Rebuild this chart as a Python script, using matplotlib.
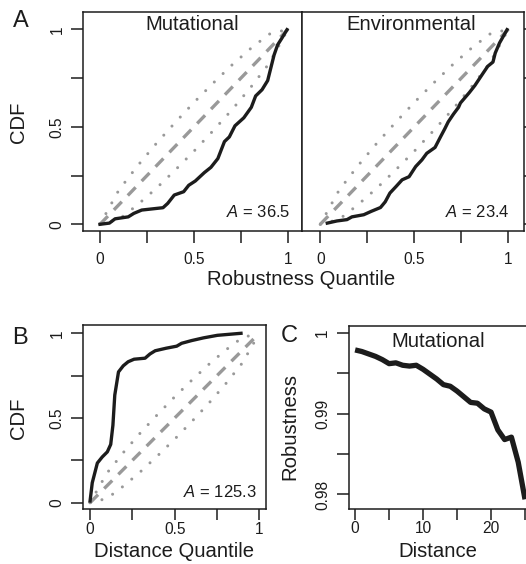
import matplotlib
matplotlib.use("Agg")
import matplotlib.pyplot as plt
import numpy as np

plt.rcParams['font.family'] = ['Liberation Sans', 'DejaVu Sans']
plt.rcParams['mathtext.fontset'] = 'custom'
plt.rcParams['mathtext.it'] = 'Liberation Sans:italic'
plt.rcParams['mathtext.rm'] = 'Liberation Sans'

# ---------------- data ----------------
# Panel A, Mutational CDF (robustness quantile vs CDF)
mut_q = [0.0, 0.05, 0.08, 0.15, 0.18, 0.222, 0.335, 0.36, 0.395, 0.445, 0.472, 0.507, 0.555, 0.59,
         0.627, 0.662, 0.688, 0.718, 0.765, 0.805, 0.828, 0.862, 0.892, 0.926, 0.945, 0.966, 0.995]
mut_cdf = [0.0, 0.006, 0.028, 0.038, 0.056, 0.073, 0.085, 0.107, 0.15, 0.167, 0.2, 0.222, 0.265, 0.292,
           0.337, 0.424, 0.448, 0.505, 0.546, 0.6, 0.658, 0.69, 0.737, 0.868, 0.92, 0.952, 0.998]
# Panel A, Environmental CDF
env_q = [0.037, 0.088, 0.142, 0.168, 0.231, 0.27, 0.32, 0.345, 0.37, 0.403, 0.435, 0.472, 0.507, 0.54,
         0.566, 0.61, 0.64, 0.662, 0.68, 0.708, 0.735, 0.745, 0.792, 0.822, 0.862, 0.89, 0.918, 0.93,
         0.953, 0.993]
env_cdf = [0.006, 0.017, 0.024, 0.038, 0.049, 0.066, 0.086, 0.115, 0.16, 0.194, 0.228, 0.244, 0.296,
           0.33, 0.364, 0.394, 0.45, 0.49, 0.525, 0.565, 0.6, 0.622, 0.675, 0.712, 0.77, 0.81, 0.832,
           0.878, 0.93, 0.998]
mut_A = "36.5"
env_A = "23.4"

# Panel B, Distance quantile CDF
dist_q = [0.0, 0.013, 0.043, 0.072, 0.102, 0.122, 0.135, 0.146, 0.168, 0.196, 0.225, 0.26, 0.325,
          0.354, 0.385, 0.45, 0.512, 0.541, 0.6, 0.67, 0.752, 0.81, 0.892]
dist_cdf = [0.01, 0.118, 0.234, 0.27, 0.3, 0.344, 0.457, 0.635, 0.772, 0.808, 0.832, 0.847, 0.853,
            0.878, 0.897, 0.912, 0.924, 0.941, 0.957, 0.973, 0.988, 0.993, 1.0]
dist_A = "125.3"

# Reference band: quantile grid, diagonal and band half-width
ref_q = [0.0, 0.1, 0.2, 0.3, 0.4, 0.5, 0.6, 0.7, 0.8, 0.9, 1.0]
band_half = [0.0, 0.075, 0.1, 0.115, 0.122, 0.125, 0.122, 0.115, 0.1, 0.075, 0.0]

# Panel C, robustness vs distance
distance = list(range(0, 26))
robustness = [0.9979, 0.9977, 0.9974, 0.9971, 0.9967, 0.9962, 0.9963, 0.9960, 0.9959, 0.9960,
              0.9955, 0.9949, 0.9943, 0.9936, 0.9934, 0.9928, 0.9921, 0.9914, 0.9913, 0.9906,
              0.9902, 0.9880, 0.9868, 0.9871, 0.9840, 0.9794]

# ---------------- style ----------------
W, H = 526, 564
DARK = '#1c1c1c'
GRAY = '#999999'
TICK_FS = 11.2
LAB_FS = 14.6
LET_FS = 17

fig = plt.figure(figsize=(W / 100, H / 100), dpi=100)


def px_axes(l, t, r, b):
    return fig.add_axes([l / W, 1 - b / H, (r - l) / W, (b - t) / H])


def ftext(x, y, s, **kw):
    kw.setdefault('color', DARK)
    fig.text(x / W, 1 - y / H, s, **kw)


def style(ax, bottom_row=False):
    for sp in ax.spines.values():
        sp.set_linewidth(1.1)
        sp.set_color(DARK)
    ax.tick_params(direction='out', length=8.5, width=1.1, color=DARK,
                   labelsize=TICK_FS, labelcolor=DARK)
    if bottom_row:
        ax.tick_params(axis='x', length=7.8, pad=1.0)
    else:
        ax.tick_params(axis='x', pad=6.5)
    ax.tick_params(axis='y', pad=5)


def draw_ref(ax):
    q = np.array(ref_q)
    hw = np.array(band_half)
    ax.plot(q, q + hw, color=GRAY, lw=2.2, dashes=(0.001, 4.0),
            dash_capstyle='round', zorder=1)
    ax.plot(q, q - hw, color=GRAY, lw=2.2, dashes=(0.001, 4.0),
            dash_capstyle='round', zorder=1)
    ax.plot(q, q, color=GRAY, lw=2.4, dashes=(3.4, 2.6), zorder=1)


def ylabels_rot(ax, ticks, labels):
    ax.set_yticks(ticks)
    ax.set_yticklabels(labels, rotation=90, va='center')


q_ticks = [0, 0.25, 0.5, 0.75, 1]
q_labels = ['0', '', '0.5', '', '1']

# ---- Panel A left (Mutational)
axA1 = px_axes(83.3, 12.3, 301.5, 231.5)
draw_ref(axA1)
axA1.plot(mut_q, mut_cdf, color=DARK, lw=2.4, zorder=3)
axA1.set_xlim(-0.089, 1.072)
axA1.set_ylim(-0.037, 1.087)
axA1.set_xticks(q_ticks)
axA1.set_xticklabels(q_labels)
ylabels_rot(axA1, q_ticks, q_labels)
style(axA1)

# ---- Panel A right (Environmental)
axA2 = px_axes(301.5, 12.3, 524, 231.5)
draw_ref(axA2)
axA2.plot(env_q, env_cdf, color=DARK, lw=2.4, zorder=3)
axA2.set_xlim(-0.1, 1.083)
axA2.set_ylim(-0.037, 1.087)
axA2.set_xticks(q_ticks)
axA2.set_xticklabels(q_labels)
axA2.set_yticks(q_ticks)
axA2.yaxis.tick_right()
axA2.set_yticklabels([])
style(axA2)

# ---- Panel B
axB = px_axes(83.3, 325, 265.7, 509.3)
draw_ref(axB)
axB.plot(dist_q, dist_cdf, color=DARK, lw=2.4, zorder=3)
axB.set_xlim(-0.04, 1.038)
axB.set_ylim(-0.039, 1.049)
axB.set_xticks(q_ticks)
axB.set_xticklabels(q_labels)
ylabels_rot(axB, q_ticks, q_labels)
style(axB, bottom_row=True)

# ---- Panel C
axC = px_axes(349, 325.7, 531.8, 509)
axC.plot(distance, robustness, color=DARK, lw=3.8, solid_capstyle='butt', zorder=3)
axC.set_xlim(-0.9, 26)
axC.set_ylim(0.9782, 1.0009)
axC.set_xticks([0, 5, 10, 15, 20, 25])
axC.set_xticklabels(['0', '', '10', '', '20', ''])
ylabels_rot(axC, [0.98, 0.985, 0.99, 0.995, 1.0], ['0.98', '', '0.99', '', '1'])
style(axC, bottom_row=True)

# ---- Text
ftext(21, 21, 'A', fontsize=LET_FS, ha='center', va='center')
ftext(19.5, 338, 'B', fontsize=LET_FS, ha='center', va='center')
ftext(289, 336, 'C', fontsize=LET_FS, ha='center', va='center')

ftext(19, 122, 'CDF', fontsize=LAB_FS, rotation=90, ha='center', va='center')
ftext(19, 418, 'CDF', fontsize=LAB_FS, rotation=90, ha='center', va='center')
ftext(290, 426, 'Robustness', fontsize=LAB_FS, rotation=90, ha='center', va='center')

ftext(301.5, 279, 'Robustness Quantile', fontsize=LAB_FS, ha='center', va='center')
ftext(173.5, 551.5, 'Distance Quantile', fontsize=LAB_FS, ha='center', va='center')
ftext(437.5, 551.5, 'Distance', fontsize=LAB_FS, ha='center', va='center')

ftext(191.8, 24, 'Mutational', fontsize=LAB_FS, ha='center', va='center')
ftext(411, 24, 'Environmental', fontsize=LAB_FS, ha='center', va='center')
ftext(438, 341.7, 'Mutational', fontsize=LAB_FS, ha='center', va='center')

ftext(290.7, 211.7, r'$A$ = ' + mut_A, fontsize=12, ha='right', va='center')
ftext(509.3, 211.7, r'$A$ = ' + env_A, fontsize=12, ha='right', va='center')
ftext(256.7, 491.7, r'$A$ = ' + dist_A, fontsize=12, ha='right', va='center')

fig.savefig('out.png', dpi=100)
